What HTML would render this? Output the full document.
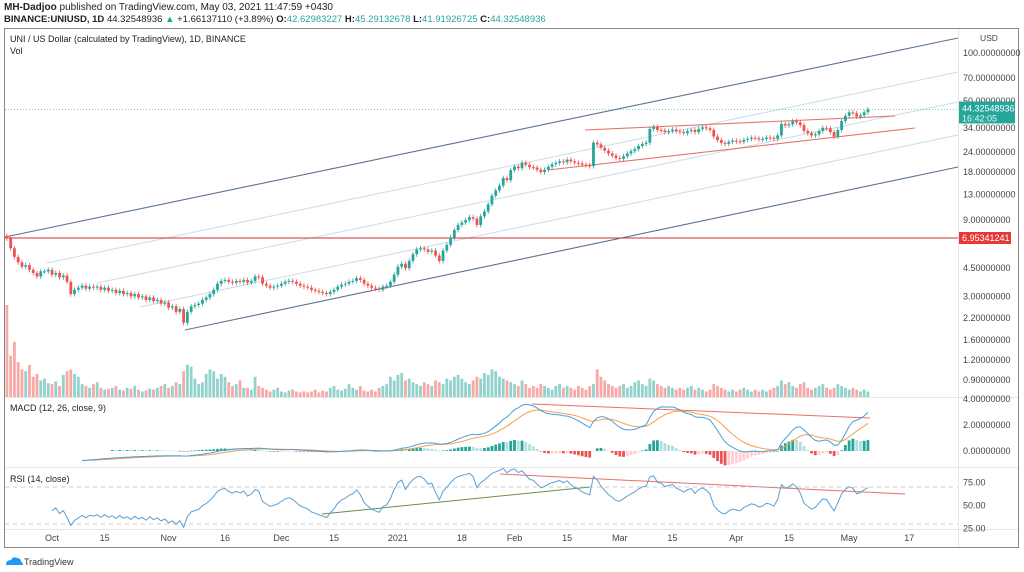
<!DOCTYPE html>
<html><head><meta charset="utf-8"><style>
html,body{margin:0;padding:0;background:#fff;width:1024px;height:572px;overflow:hidden;font-family:"Liberation Sans",sans-serif}
svg{display:block}
</style></head><body>
<svg id="chart" width="1024" height="572" viewBox="0 0 1024 572" xmlns="http://www.w3.org/2000/svg" font-family="Liberation Sans, sans-serif">
<defs><clipPath id="rsiClip"><rect x="5" y="468" width="953" height="61"/></clipPath></defs>
<text x="4" y="10" font-size="10" fill="#222"><tspan font-weight="bold">MH-Dadjoo</tspan> published on TradingView.com, May 03, 2021 11:47:59 +0430</text>
<text x="4" y="22" font-size="9.5" fill="#222" font-weight="bold">BINANCE:UNIUSD, 1D <tspan font-weight="normal">44.32548936</tspan> <tspan fill="#26a69a">▲</tspan> <tspan font-weight="normal">+1.66137110 (+3.89%)</tspan> O:<tspan fill="#26a69a" font-weight="normal">42.62983227</tspan> H:<tspan fill="#26a69a" font-weight="normal">45.29132678</tspan> L:<tspan fill="#26a69a" font-weight="normal">41.91926725</tspan> C:<tspan fill="#26a69a" font-weight="normal">44.32548936</tspan></text>
<rect x="4.5" y="28.5" width="1014" height="519" fill="none" stroke="#888" stroke-width="1"/>
<line x1="958.5" y1="29" x2="958.5" y2="547" stroke="#e6e6e6"/>
<line x1="5" y1="397.5" x2="1018" y2="397.5" stroke="#e6e6e6"/>
<line x1="5" y1="467.5" x2="1018" y2="467.5" stroke="#e6e6e6"/>
<line x1="5" y1="529.5" x2="1018" y2="529.5" stroke="#e6e6e6"/>
<g id="lines"></g>
<g id="vol"></g>
<g id="candles"></g>
<g id="macd"></g>
<g id="rsi" clip-path="url(#rsiClip)"></g>
<g id="axis"></g>
<text x="10" y="42" font-size="9" fill="#222">UNI / US Dollar (calculated by TradingView), 1D, BINANCE</text>
<text x="10" y="54" font-size="9" fill="#222">Vol</text>
<text x="10" y="411" font-size="9" fill="#222">MACD (12, 26, close, 9)</text>
<text x="10" y="482" font-size="9" fill="#222">RSI (14, close)</text>
<text x="980" y="41" font-size="8.5" fill="#444">USD</text>
<g>
<path d="M6 565 q0-5 5-5 q2-4 6-2 q4 0 4 4 q2 0 2 3 z" fill="#2196f3"/>
<text x="24" y="565" font-size="9" fill="#333">TradingView</text>
</g>
</svg>
<script>
const closes=[6.9,6.0,5.3,4.9,4.6,4.7,4.4,4.2,4.0,4.3,
4.3,4.4,4.1,4.2,3.95,4.05,3.7,3.1,3.3,3.4,
3.5,3.35,3.45,3.4,3.45,3.3,3.4,3.25,3.3,3.15,
3.25,3.1,3.15,3.0,3.1,2.95,3.0,2.85,2.95,2.8,
2.85,2.7,2.75,2.55,2.6,2.4,2.5,2.05,2.4,2.6,
2.65,2.7,2.85,2.95,3.1,3.3,3.6,3.75,3.8,3.7,
3.65,3.75,3.7,3.8,3.65,3.75,4.0,3.95,3.6,3.5,
3.4,3.45,3.5,3.6,3.7,3.75,3.7,3.6,3.5,3.45,
3.4,3.3,3.25,3.2,3.15,3.1,3.2,3.3,3.45,3.55,
3.6,3.7,3.75,3.9,3.8,3.6,3.5,3.4,3.35,3.3,
3.45,3.5,3.7,4.1,4.6,4.8,4.5,5.0,5.5,5.9,
6.0,5.9,5.7,5.8,5.4,5.0,5.8,6.3,7.0,7.8,
8.4,8.7,9.0,9.4,9.2,8.4,9.5,10.2,11.3,12.8,
13.8,14.8,16.5,16.0,18.5,19.5,19.0,20.6,20.0,19.3,
19.2,18.6,18.0,18.6,19.4,20.1,20.5,21.0,20.7,21.5,
21.0,20.6,20.4,20.0,19.8,19.6,27.5,26.8,25.5,24.5,
23.5,22.8,22.0,21.8,22.6,23.5,24.3,25.0,26.2,27.0,
27.5,33.5,34.5,33.0,32.8,32.0,32.5,33.2,32.4,32.0,
31.5,32.5,33.0,32.0,33.5,34.3,33.8,33.0,30.0,28.5,
27.4,27.0,27.8,28.3,28.0,27.8,28.6,29.0,29.5,29.3,
28.8,29.0,29.6,29.4,29.0,30.5,36.0,35.2,35.8,37.5,
36.8,35.4,32.5,31.5,30.5,31.0,32.5,34.0,33.8,32.0,
30.0,33.0,37.5,40.5,42.5,42.0,40.0,40.8,42.6,44.3];
const volumes=[100,45,60,38,30,28,35,22,25,18,
20,15,14,17,12,24,28,30,25,22,
14,12,10,14,16,10,8,9,10,12,
8,7,10,9,12,8,6,7,9,8,
10,12,14,10,12,16,14,28,35,33,
20,14,16,25,30,28,20,25,22,16,
12,14,18,10,10,8,22,12,10,8,
6,8,10,6,5,7,8,6,5,6,
5,6,8,5,7,6,10,12,8,7,
9,14,10,8,12,7,6,8,6,10,
12,14,22,18,24,26,18,20,16,14,
12,16,14,12,18,16,14,20,18,22,
24,20,16,14,18,22,20,26,24,30,
28,22,20,18,16,14,12,18,14,10,
12,10,14,12,10,8,12,14,10,12,
10,8,12,10,8,12,14,30,22,18,
14,12,10,12,14,10,12,16,18,14,
12,20,18,14,12,10,12,10,8,10,
8,10,12,8,10,8,6,8,14,12,
10,8,6,8,6,8,10,8,6,8,
6,8,6,8,10,12,18,14,16,12,
10,14,16,10,8,10,12,14,10,8,
10,14,12,10,8,10,8,6,8,6];
const priceTicks=[100,70,50,34,24,18,13,9,4.5,3,2.2,1.6,1.2,0.9];
const macdTicks=[4,2,0];
const rsiTicks=[75,50,25];
const timeLabels=["Oct","15","Nov","16","Dec","15","2021","18","Feb","15","Mar","15","Apr","15","May","17"];
const timeDays=[0,14,31,46,61,75,92,109,123,137,151,165,182,196,212,228];
const hLinePrice=6.95341241;
const lastPrice=44.32548936;

const NS="http://www.w3.org/2000/svg";
function el(tag,attrs,parent,txt){const e=document.createElementNS(NS,tag);for(const k in attrs)e.setAttribute(k,attrs[k]);if(txt!==undefined)e.textContent=txt;parent.appendChild(e);return e;}
const xOfBar=i=>6.9+i*3.76;
const xOfDay=d=>52+d*3.76;
const yP=p=>53+69.4*Math.log(100/p);
const yM=v=>451-v*13;
const yR=v=>505.5-(v-50)*0.925;
const yV=v=>397-v*0.92;
const G="#26a69a",R="#ef5350";

const L=document.getElementById('lines');
function ln(x1,y1,x2,y2,c,w,name,dash){const e=el('line',{x1,y1,x2,y2,stroke:c,'stroke-width':w},L);if(dash)e.setAttribute('stroke-dasharray',dash);

return e;}
ln(5,237,958,38,"#5b7391",1.1,"channel-upper-line");
ln(185,330,958,167,"#5b7391",1.1,"channel-lower-line");
ln(47,263,958,72,"#c7dceb",1,"channel-mid-line-1");
ln(97,283,958,102,"#c7dceb",1,"channel-mid-line-2");
ln(140,307,958,135,"#c7dceb",1,"channel-mid-line-3");
ln(5,yP(hLinePrice),958,yP(hLinePrice),"#d32f2f",1,"support-horizontal-line");
ln(5,yP(lastPrice),958,yP(lastPrice),"#26a69a",1,"last-price-line","1 2").setAttribute('opacity','0.6');
ln(585,130,895,116,"#e57368",1.1,"triangle-upper-line");
ln(548,170,915,128,"#e57368",1.1,"triangle-lower-line");
ln(532,404,870,418,"#e57368",1,"macd-trendline");
ln(500,474,905,494,"#e57368",1,"rsi-resistance-line");
ln(322,514,590,487,"#6b8e4e",1,"rsi-support-line");
ln(5,yR(70),958,yR(70),"#bbb",0.8,"rsi-upper-band","4 4");
ln(5,yR(30),958,yR(30),"#bbb",0.8,"rsi-lower-band","4 4");

const C=document.getElementById('candles'),V=document.getElementById('vol');
closes.forEach((c,i)=>{
  const o=i?closes[i-1]:c*1.04;
  const up=c>=o,col=up?G:R,x=xOfBar(i);
  const hi=Math.max(o,c)*1.035,lo=Math.min(o,c)*0.965;
  const w=el('line',{x1:x,x2:x,y1:yP(hi),y2:yP(lo),stroke:col,'stroke-width':0.8},C);
  
  
  const yt=yP(Math.max(o,c)),yb=yP(Math.min(o,c));
  const b=el('rect',{x:x-1.4,y:yt,width:2.8,height:Math.max(1,yb-yt),fill:col},C);
  
  
  const vv=volumes[i];
  const vb=el('rect',{x:x-1.4,y:yV(vv),width:2.8,height:397-yV(vv),fill:col,opacity:0.5},V);
  
  
});

function ema(arr,n){const k=2/(n+1);const out=[];arr.forEach((v,i)=>out.push(i?v*k+out[i-1]*(1-k):v));return out;}
const e12=ema(closes,12),e26=ema(closes,26);
const macd=closes.map((_,i)=>e12[i]-e26[i]);
const sig=ema(macd,9);
const M=document.getElementById('macd');
let pm="",ps="";
for(let i=20;i<closes.length;i++){
  const x=xOfBar(i);pm+=(i==20?"M":"L")+x+","+yM(macd[i]);ps+=(i==20?"M":"L")+x+","+yM(sig[i]);
  if(i>=28){const h=macd[i]-sig[i],hp=macd[i-1]-sig[i-1];
    const col=h>=0?(h>=hp?G:"#b2dfdb"):(h<hp?R:"#ffcdd2");
    const y0=yM(0),y1=yM(h*1.0);
    const hb=el('rect',{x:x-1.4,y:Math.min(y0,y1),width:2.8,height:Math.max(0.6,Math.abs(y1-y0)),fill:col},M);
    
    }
}
const sl=el('path',{d:ps,fill:"none",stroke:"#f5a04a",'stroke-width':1},M);


const ml=el('path',{d:pm,fill:"none",stroke:"#4a9fd8",'stroke-width':1},M);



const Rg=document.getElementById('rsi');
let ag=0.06,al=0.06,pr="";
for(let i=11;i<closes.length;i++){
  const d=closes[i]-closes[i-1],g=Math.max(d,0),l=Math.max(-d,0);
  ag=(ag*13+g)/14;al=(al*13+l)/14;
  if(i>=12){const rs=al===0?100:100-100/(1+ag/al);pr+=(i==12?"M":"L")+xOfBar(i)+","+yR(rs);}
}
const rl=el('path',{d:pr,fill:"none",stroke:"#5a9fd4",'stroke-width':1},Rg);



const A=document.getElementById('axis');
function lab(x,y,t,name,fill,anchor){const e=el('text',{x,y,'font-size':9,fill:fill||"#444",'text-anchor':anchor||'start'},A,t);

return e;}
priceTicks.forEach(p=>lab(963,yP(p)+3,p.toFixed(8),'price-tick-label'));
macdTicks.forEach(v=>lab(963,yM(v)+3,v.toFixed(8),'macd-tick-label'));
rsiTicks.forEach(v=>lab(963,yR(v)+3,v.toFixed(2),'rsi-tick-label'));
timeLabels.forEach((t,i)=>lab(xOfDay(timeDays[i]),541,t,'time-tick-label',"#444",'middle'));
const yl=yP(lastPrice);
const bg=el('rect',{x:959,y:yl-8,width:56,height:22,fill:"#26a69a"},A);


lab(962,yl+2,lastPrice.toFixed(8),'last-price-value',"#fff");
lab(962,yl+12,"16:42:05",'bar-countdown',"#e0f2f1");
const yh=yP(hLinePrice);
const rb=el('rect',{x:959,y:yh-6,width:52,height:12,fill:"#e53935"},A);


lab(962,yh+3,hLinePrice.toFixed(8),'support-price-value',"#fff");
</script>
</body></html>
